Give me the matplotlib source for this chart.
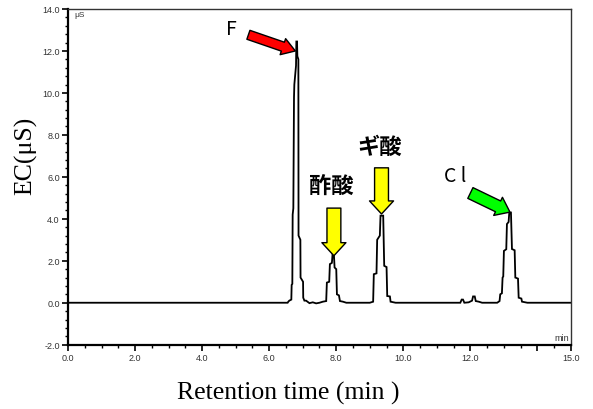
import matplotlib
matplotlib.use("Agg")
import matplotlib.pyplot as plt
from matplotlib.patches import FancyArrowPatch
from matplotlib.ticker import MultipleLocator

# ---- data ----
time_min = [0.0, 6.55, 6.57, 6.60, 6.66, 6.67, 6.69, 6.70, 6.72, 6.74, 6.75, 6.80, 6.81, 6.83,
            6.84, 6.87, 6.875, 6.93, 6.935, 7.01, 7.015, 7.05, 7.10, 7.20, 7.30, 7.40, 7.50, 7.60,
            7.70, 7.72, 7.79, 7.81, 7.87, 7.89, 7.93, 7.95, 8.00, 8.02, 8.08, 8.11, 8.20, 8.30,
            9.00, 9.10, 9.12, 9.20, 9.22, 9.30, 9.32, 9.40, 9.43, 9.50, 9.52, 9.60, 9.62, 9.77,
            11.70, 11.74, 11.78, 11.82, 11.95, 12.05, 12.08, 12.13, 12.16, 12.25, 12.35,
            12.80, 12.87, 12.89, 12.94, 12.96, 12.98, 13.00, 13.07, 13.09, 13.14, 13.16, 13.21,
            13.24, 13.32, 13.34, 13.42, 13.44, 13.52, 13.54, 13.70, 15.0]
ec_us = [0.0, 0.0, 0.05, 0.10, 0.15, 0.85, 0.90, 4.20, 4.50, 9.80, 10.40, 11.30, 12.45, 12.45,
         11.75, 11.60, 3.20, 3.00, 1.20, 1.00, 0.24, 0.10, 0.10, -0.02, 0.02, -0.03, 0.00, 0.05,
         0.08, 0.96, 1.00, 1.84, 1.90, 2.32, 2.30, 1.68, 1.60, 0.40, 0.35, 0.08, 0.05, 0.0,
         0.0, 0.05, 1.36, 1.40, 3.00, 3.20, 4.15, 4.15, 1.76, 1.70, 0.32, 0.30, 0.05, 0.0,
         0.0, 0.15, 0.15, 0.0, 0.02, 0.10, 0.30, 0.30, 0.08, 0.05, 0.0,
         0.0, 0.08, 0.40, 0.45, 1.20, 1.25, 2.47, 2.55, 3.75, 3.85, 4.30, 4.30,
         2.56, 2.50, 1.20, 1.15, 0.24, 0.20, 0.05, 0.0, 0.0]

x_ticks = [0, 2, 4, 6, 8, 10, 12, 14, 15]
x_tick_labels = ["0.0", "2.0", "4.0", "6.0", "8.0", "10.0", "12.0", "", "15.0"]
y_ticks = [-2, 0, 2, 4, 6, 8, 10, 12, 14]
y_tick_labels = ["-2.0", "0.0", "2.0", "4.0", "6.0", "8.0", "10.0", "12.0", "14.0"]

peak_labels = ["F", "酢酸", "ギ酸", "C l"]
peak_label_pos = [(4.87, 13.06), (7.86, 5.55), (9.29, 7.45), (11.53, 6.06)]
arrow_tails = [(5.38, 12.77), (7.93, 4.51), (9.35, 6.43), (12.0, 5.23)]
arrow_tips = [(6.78, 12.0), (7.93, 2.24), (9.35, 4.23), (13.18, 4.32)]
arrow_colors = ["#ff0000", "#ffff00", "#ffff00", "#00ff00"]

fig = plt.figure(figsize=(5.93, 4.10), dpi=100)
ax = fig.add_axes([0.11467, 0.15683, 0.8482, 0.8188])

ax.plot(time_min, ec_us, color="black", lw=1.3, solid_joinstyle="miter")
ax.set_xlim(0, 15)
ax.set_ylim(-2, 14)

ax.set_xticks(x_ticks)
ax.set_xticklabels(x_tick_labels)
ax.set_yticks(y_ticks)
ax.set_yticklabels(y_tick_labels)
ax.xaxis.set_minor_locator(MultipleLocator(0.5))
ax.yaxis.set_minor_locator(MultipleLocator(0.4))

for lab in ax.get_xticklabels() + ax.get_yticklabels():
    lab.set_fontfamily("Liberation Sans")
ax.tick_params(which="major", direction="out", length=4, width=1.2, labelsize=6.5,
               labelcolor="#333333", pad=2)
ax.tick_params(which="minor", direction="out", length=2.5, width=1.0)

for s in ["left", "bottom"]:
    ax.spines[s].set_linewidth(1.6)
    ax.spines[s].set_color("black")
for s in ["top", "right"]:
    ax.spines[s].set_linewidth(1.0)
    ax.spines[s].set_color("#333333")

ax.text(0.33, 13.76, "μS", fontsize=6, family="Liberation Sans", ha="center", va="center", color="#333333")
ax.text(14.73, -1.66, "min", fontsize=6.5, family="Liberation Sans", ha="center", va="center", color="#333333")

# arrows
styles = [
    "simple,head_length=0.95,head_width=1.22,tail_width=0.68",
    "simple,head_length=0.94,head_width=1.73,tail_width=1.0",
    "simple,head_length=0.94,head_width=1.73,tail_width=1.0",
    "simple,head_length=0.95,head_width=1.45,tail_width=0.86",
]
for tail, tip, col, st in zip(arrow_tails, arrow_tips, arrow_colors, styles):
    arr = FancyArrowPatch(tail, tip, arrowstyle=st, mutation_scale=10,
                          facecolor=col, edgecolor="black", lw=1.0,
                          shrinkA=0, shrinkB=0, zorder=5)
    ax.add_patch(arr)

for (lx, ly), lab in zip(peak_label_pos, peak_labels):
    if lab in ("F", "C l"):
        ax.text(lx, ly, lab, fontsize=14, family=["Noto Sans CJK JP", "DejaVu Sans"],
                ha="center", va="center")
    else:
        ax.text(lx, ly, lab, fontsize=16, fontweight="bold",
                family=["Noto Sans CJK JP", "DejaVu Sans"], ha="center", va="center")

fig.text(288.5 / 593, 1 - 393 / 410, "Retention time (min )", fontsize=18.5,
         family="Liberation Serif", ha="center", va="center")
fig.text(26 / 593, 1 - 156 / 410, "EC(μS)", fontsize=18.5, family="Liberation Serif",
         ha="center", va="center", rotation=90)

fig.savefig("out.png", dpi=100)
